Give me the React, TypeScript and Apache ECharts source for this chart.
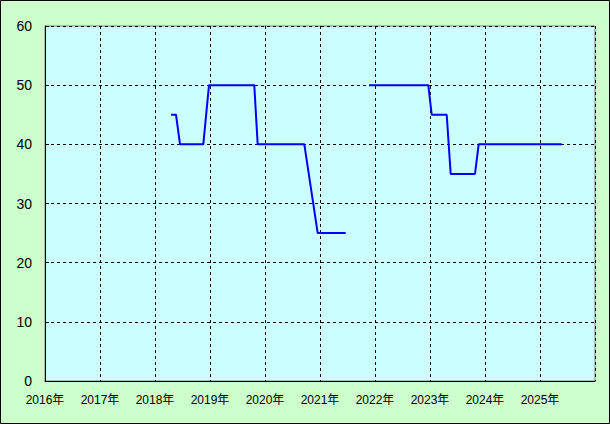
import React, { useEffect, useRef } from "react";
import * as echarts from "echarts";

// Year positions (decimal years) and values; null splits the line into two runs
const years: (number | null)[] = [
  2018.291, 2018.382, 2018.455, 2018.878, 2018.982, 2019.805, 2019.867, 2020.715, 2020.958, 2021.467,
  null,
  2021.891, 2022.969, 2023.031, 2023.304, 2023.376, 2023.818, 2023.885, 2025.395,
];
const values: (number | null)[] = [
  45, 45, 40, 40, 50, 50, 40, 40, 25, 25,
  null,
  50, 50, 45, 45, 35, 35, 40, 40,
];
const yTicks = [0, 10, 20, 30, 40, 50, 60];
const xStart = 2016;
const xEnd = 2026;

const FONT = "'Liberation Sans', 'Noto Sans CJK JP', sans-serif";

export default function App() {
  const ref = useRef<HTMLDivElement>(null);
  useEffect(() => {
    if (!ref.current) return;
    const chart = echarts.init(ref.current, undefined, { renderer: "svg" });
    const data = years.map((y, i) => (y === null ? [null, null] : [y, values[i]]));
    chart.setOption({
      animation: false,
      backgroundColor: "#ccffcc",
      grid: {
        left: 45,
        top: 26,
        right: 15,
        bottom: 43,
        show: true,
        backgroundColor: "#ccffff",
        borderColor: "#808080",
        borderWidth: 1,
      },
      xAxis: {
        type: "value",
        min: xStart,
        max: xEnd,
        interval: 1,
        axisLine: { show: true, lineStyle: { color: "#000", width: 1 } },
        axisTick: { show: false },
        axisLabel: {
          color: "#000",
          fontSize: 12,
          fontFamily: FONT,
          margin: 13,
          formatter: (v: number) => (v >= xEnd ? "" : `${v}年`),
        },
        splitLine: { show: true, lineStyle: { color: "#000", type: [3, 3], width: 1 } },
      },
      yAxis: {
        type: "value",
        min: yTicks[0],
        max: yTicks[yTicks.length - 1],
        interval: 10,
        axisLine: { show: true, lineStyle: { color: "#000", width: 1 } },
        axisTick: { show: true, inside: true, length: 4, lineStyle: { color: "#000" } },
        axisLabel: { color: "#000", fontSize: 14, fontFamily: FONT, margin: 13 },
        splitLine: { show: true, lineStyle: { color: "#000", type: [3, 3], width: 1 } },
      },
      graphic: [
        {
          type: "rect",
          shape: { x: 0.5, y: 0.5, width: 609, height: 423 },
          style: { fill: "none", stroke: "#000", lineWidth: 1 },
          silent: true,
          z: 100,
        },
      ],
      series: [
        {
          type: "line",
          data,
          connectNulls: false,
          showSymbol: false,
          symbol: "none",
          lineStyle: { color: "#0000ff", width: 2 },
          z: 5,
        },
      ],
    });
    return () => chart.dispose();
  }, []);
  return (
    <div
      ref={ref}
      style={{ position: "fixed", left: 0, top: 0, width: 610, height: 424 }}
    />
  );
}
